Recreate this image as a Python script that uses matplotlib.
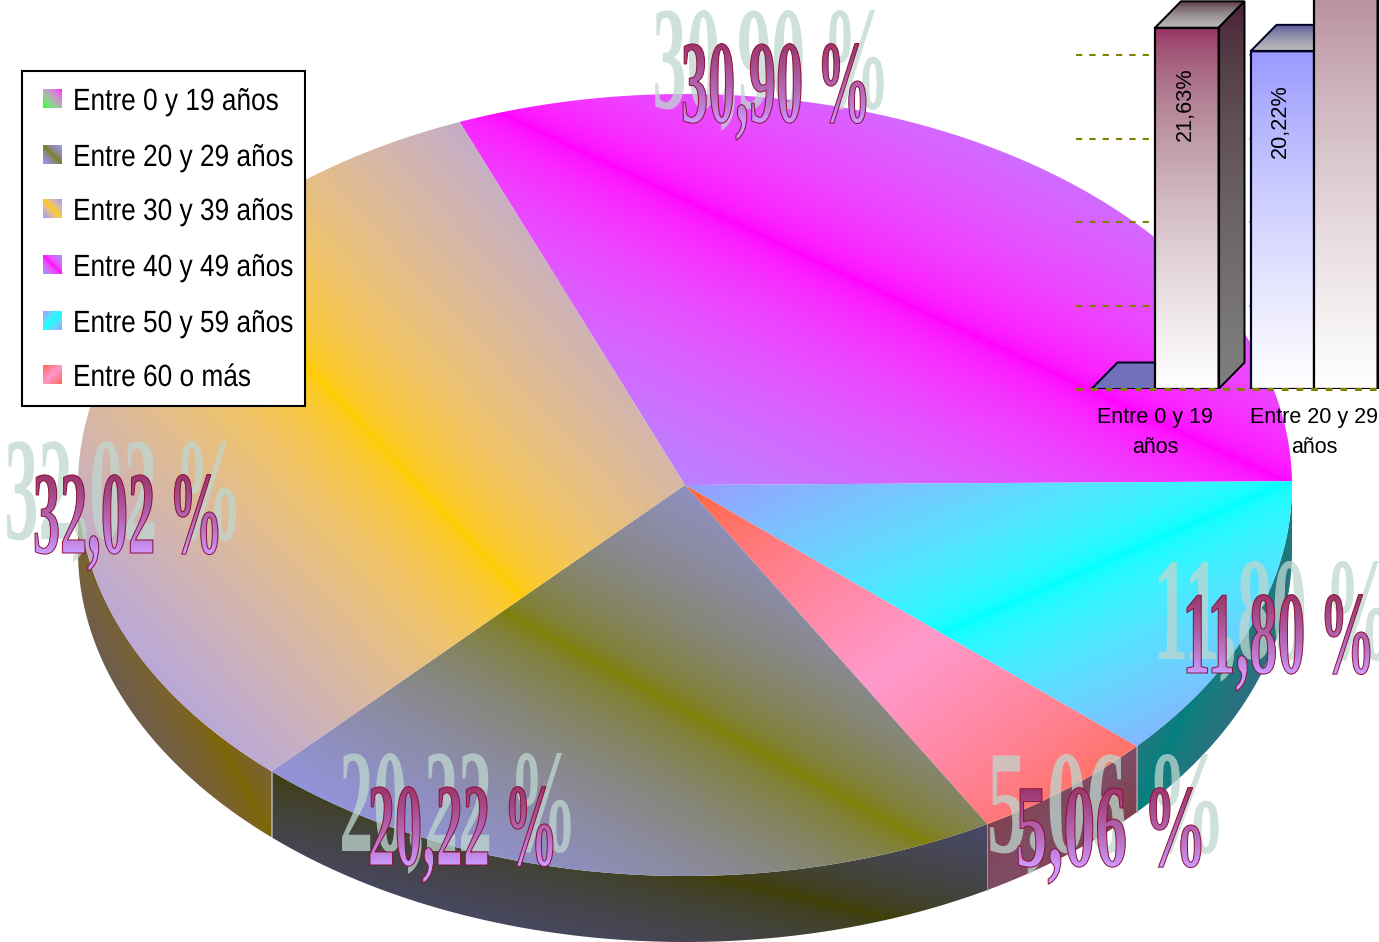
import numpy as np
import matplotlib
matplotlib.use('Agg')
import matplotlib.pyplot as plt
from matplotlib.colors import to_rgb
from matplotlib.patches import Polygon, Rectangle
from matplotlib.patheffects import AbstractPathEffect
from matplotlib.transforms import Affine2D, Bbox

W, H = 1379, 942

# pie data, clockwise from the first slice
pie_names = ['Entre 40 y 49 años', 'Entre 50 y 59 años', 'Entre 60 o más',
             'Entre 20 y 29 años', 'Entre 30 y 39 años']
pie_values = [30.90, 11.80, 5.06, 20.22, 32.02]
pie_band = ['#FF00FF', '#00FFFF', '#FF99CC', '#808000', '#FFCC00']
pie_edge = ['#9999FF', '#9999FF', '#FF6633', '#9999FF', '#9999FF']
pie_anti = [False, True, True, False, False]

# legend
legend_names = ['Entre 0 y 19 años', 'Entre 20 y 29 años', 'Entre 30 y 39 años',
                'Entre 40 y 49 años', 'Entre 50 y 59 años', 'Entre 60 o más']
legend_tops = [89, 145, 199, 255, 311, 365]

# bar chart in the corner
bar_cats = ['Entre 0 y 19\naños', 'Entre 20 y 29\naños']
bar_blue = [0, 20.22]
bar_maroon = [21.63, 32.02]

# pie geometry (pixels)
CX, CY, RX, RY, DEPTH = 685, 485, 607, 391, 66
START = 111.8

# label baseline anchors for the wordart text, same order as pie_values
label_xy = [(683, 122), (1187, 673), (1018, 866), (370, 865), (35, 553)]


def mix(a, b, t, gamma=1.9):
    # the gradients of the original blend in a gamma space
    a, b = np.array(to_rgb(a)), np.array(to_rgb(b))
    return ((1 - t) * a ** gamma + t * b ** gamma) ** (1 / gamma)


class Stretched(AbstractPathEffect):
    """Text made taller, the fonts here have no condensed cut"""

    def __init__(self, k):
        self.k = k

    def draw_path(self, renderer, gc, tpath, affine, rgbFace=None):
        renderer.draw_path(gc, tpath, Affine2D().scale(1, self.k) + affine, rgbFace)


class WordArt(AbstractPathEffect):
    """Pale enlarged shadow, then a vertical gradient fill with a dark outline.
    Every label is fitted to the same box, whatever its characters."""

    def __init__(self, k=2.27, width=183, height=80):
        self.k = k
        self.width = width
        self.height = height

    def draw_path(self, renderer, gc, tpath, affine, rgbFace=None):
        ox, oy = affine.transform((0, 0))
        sx = self.width / tpath.get_extents(affine).width
        base = Affine2D().scale(sx, self.k) + affine
        # left edge of the ink, not the glyph origin, goes on the anchor
        base = base + Affine2D().translate(ox - tpath.get_extents(base).x0, 0)

        # shadow, scaled about a point right of and below the text
        px, py = ox + 112, oy - 56
        grow = Affine2D().translate(-px, -py).scale(1.25).translate(px, py)
        gc_s = renderer.new_gc()
        gc_s.copy_properties(gc)
        gc_s.set_linewidth(0)
        gc_s.set_alpha(0.75)
        renderer.draw_path(gc_s, tpath, base + grow, to_rgb('#BFD7CF'))
        gc_s.restore()

        # fill row by row
        gc_f = renderer.new_gc()
        gc_f.copy_properties(gc)
        gc_f.set_linewidth(0)
        gc_f.set_alpha(1)
        for y in np.arange(oy - 30, oy + self.height + 4, 2):
            t = np.clip((y - oy) / self.height, 0, 1) ** 0.8
            gc_f.set_clip_rectangle(Bbox([[0, y], [W, y + 2]]))
            renderer.draw_path(gc_f, tpath, base, tuple(mix('#CC99FF', '#993366', t, 1.0)))
        gc_f.restore()

        gc_o = renderer.new_gc()
        gc_o.copy_properties(gc)
        gc_o.set_alpha(1)
        gc_o.set_foreground('#8B0F38')
        gc_o.set_linewidth(0.7)
        renderer.draw_path(gc_o, tpath, base, None)
        gc_o.restore()


def diag_gradient(band, edge, anti=False, shade=1.0, n=128):
    u, v = np.meshgrid(np.linspace(0, 1, n), np.linspace(0, 1, n))
    d = np.abs(u + v - 1) if anti else np.abs(u - v)
    return mix(band, edge, d[..., None]) * shade


def fill_patch(ax, patch, img, zorder):
    # gradient image over the patch extent, clipped to the patch
    ax.add_patch(patch)
    xy = patch.get_xy()
    x0, y0 = xy.min(axis=0)
    x1, y1 = xy.max(axis=0)
    im = ax.imshow(img, extent=(x0, x1, y1, y0), origin='upper', aspect='auto',
                   interpolation='bilinear', zorder=zorder)
    im.set_clip_path(patch)
    return im


def arc(a1, a2, dy=0, n=160):
    t = np.radians(np.linspace(a1, a2, n))
    return np.column_stack([CX + RX * np.cos(t), CY - RY * np.sin(t) + dy])


plt.rcParams['font.family'] = ['Liberation Sans', 'DejaVu Sans']

fig = plt.figure(figsize=(W / 100, H / 100), dpi=100)
ax = fig.add_axes([0, 0, 1, 1])
ax.set_xlim(0, W)
ax.set_ylim(H, 0)
ax.axis('off')

# pie
angle = START
for val, band, edge, anti in zip(pie_values, pie_band, pie_edge, pie_anti):
    a1, a2 = angle, angle - val * 3.6
    angle = a2

    # side wall, only the front half shows
    hi, lo = min(a1, 0), max(a2, -180)
    if hi > lo:
        top = arc(hi, lo)
        low = arc(lo, hi, DEPTH)
        wall = Polygon(np.vstack([top, low]), closed=True, fc='none', ec='none')
        fill_patch(ax, wall, diag_gradient(band, edge, anti, shade=0.5), 1)
        if a2 > -180:
            ax.plot([top[-1, 0]] * 2, [top[-1, 1], low[0, 1]], color='#9a9a9a',
                    lw=0.7, zorder=1.5)

    face = Polygon(np.vstack([[CX, CY], arc(a1, a2)]), closed=True, fc='none', ec='none')
    fill_patch(ax, face, diag_gradient(band, edge, anti), 2)

# wordart percentages
for val, (x, y) in zip(pie_values, label_xy):
    txt = ax.text(x, y, f'{val:.2f}'.replace('.', ',') + ' %', ha='left', va='baseline',
                  family='Liberation Serif', weight='bold', fontsize=37.4,
                  zorder=6, clip_on=False)
    txt.set_path_effects([WordArt()])

# legend box
ax.add_patch(Rectangle((22, 71), 283, 335, fc='white', ec='black', lw=1.5, zorder=7))

# first swatch runs corner to corner, green to magenta
u, v = np.meshgrid(np.linspace(0, 1, 64), np.linspace(0, 1, 64))
swatches = [mix('#00FF00', '#FF00FF', ((u + 1 - v) / 2)[..., None]),
            diag_gradient('#808000', '#9999FF'),
            diag_gradient('#FFCC00', '#9999FF'),
            diag_gradient('#FF00FF', '#9999FF'),
            diag_gradient('#00FFFF', '#9999FF', anti=True),
            diag_gradient('#FF99CC', '#FF6633', anti=True)]

for name, top_y, img in zip(legend_names, legend_tops, swatches):
    ax.imshow(img, extent=(43, 62, top_y + 19, top_y), origin='upper', aspect='auto', zorder=8)
    txt = ax.text(73, top_y + 21, name, ha='left', va='baseline', fontsize=18.9,
                  color='black', zorder=8)
    txt.set_path_effects([Stretched(1.17)])

ax.set_xlim(0, W)
ax.set_ylim(H, 0)

# corner bar chart, 5 % = 83 px, categories 159 px apart
PX_Y = 16.7
PX_X = 159.0
base_y = 389
ax2 = fig.add_axes([1076 / W, (H - base_y) / H, (W - 1076) / W, base_y / H])
ax2.set_facecolor('none')
ax2.set_xlim((1076 - 1155) / PX_X, (W - 1155) / PX_X)
ax2.set_ylim(0, base_y / PX_Y)
for s in ax2.spines.values():
    s.set_visible(False)

ax2.set_yticks([0, 5, 10, 15, 20])
ax2.tick_params(axis='y', length=0, labelleft=False)
ax2.tick_params(axis='x', length=0, pad=13)
ax2.set_xticks([0, 1])
ax2.set_xticklabels(bar_cats, fontsize=15.5, linespacing=1.55, color='black')
ax2.set_axisbelow(True)
ax2.grid(axis='y', color='#808000', lw=1.5, linestyle=(0, (3, 3.4)), zorder=0)

bar_w = 63.5 / PX_X
dep_x, dep_y = 26 / PX_X, 26.5 / PX_Y


def vgrad(c_top, c_bot, n=128):
    return mix(c_top, c_bot, np.linspace(0, 1, n)[:, None, None], 2.2)


def draw_bar(x, h, front, side_top, back, edge, zorder):
    x0, x1 = x - bar_w / 2, x + bar_w / 2
    if h == 0:
        floor = Polygon([(x0, 0), (x0 + dep_x, dep_y), (x1 + dep_x, dep_y), (x1, 0)],
                        closed=True, fc=back, ec=edge, lw=1.5, zorder=zorder)
        ax2.add_patch(floor)
        return
    im = ax2.imshow(vgrad(front, '#FFFFFF'), extent=(x0, x1, 0, h),
                    origin='upper', aspect='auto', zorder=zorder)
    bar = ax2.bar([x], [h], width=bar_w, fc='none', ec=edge, lw=1.6, zorder=zorder + 0.2)
    im.set_clip_path(bar[0])

    side = Polygon([(x1, 0), (x1 + dep_x, dep_y), (x1 + dep_x, h + dep_y), (x1, h)],
                   closed=True, fc='none', ec=edge, lw=1.4, zorder=zorder + 0.1)
    ax2.add_patch(side)
    im = ax2.imshow(vgrad(side_top, '#808080'), extent=(x1, x1 + dep_x, 0, h + dep_y),
                    origin='upper', aspect='auto', zorder=zorder)
    im.set_clip_path(side)

    top = Polygon([(x0, h), (x0 + dep_x, h + dep_y), (x1 + dep_x, h + dep_y), (x1, h)],
                  closed=True, fc='none', ec=edge, lw=1.4, zorder=zorder + 0.1)
    ax2.add_patch(top)
    im = ax2.imshow(vgrad(back, '#BDBDBD'), extent=(x0, x1 + dep_x, h, h + dep_y),
                    origin='upper', aspect='auto', zorder=zorder)
    im.set_clip_path(top)


for i in range(len(bar_cats)):
    draw_bar(i - bar_w / 2, bar_blue[i], '#9999FF', '#4D4D80',
             '#7070BC' if bar_blue[i] == 0 else '#55559A', '#000020', 2 + i)
    draw_bar(i + bar_w / 2, bar_maroon[i], '#993366', '#4A2035', '#5A2A40', 'black', 2.5 + i)

# value labels inside the visible bars
nudge = 1.5 / PX_X
ax2.text(bar_w / 2 - nudge, bar_maroon[0] - 4.58, f'{bar_maroon[0]:.2f}%'.replace('.', ','),
         rotation=90, ha='center', va='center', fontsize=15.6, color='black', zorder=9)
ax2.text(1 - bar_w / 2 - nudge, bar_blue[1] - 4.17, f'{bar_blue[1]:.2f}%'.replace('.', ','),
         rotation=90, ha='center', va='center', fontsize=15.6, color='black', zorder=9)

# baseline sits on top of the bars
ax2.axhline(0, color='#808000', lw=2.2, linestyle=(0, (2.2, 2.6)), zorder=10, clip_on=False)

ax2.set_xlim((1076 - 1155) / PX_X, (W - 1155) / PX_X)
ax2.set_ylim(0, base_y / PX_Y)

fig.savefig('out.png', dpi=100, facecolor='white')
